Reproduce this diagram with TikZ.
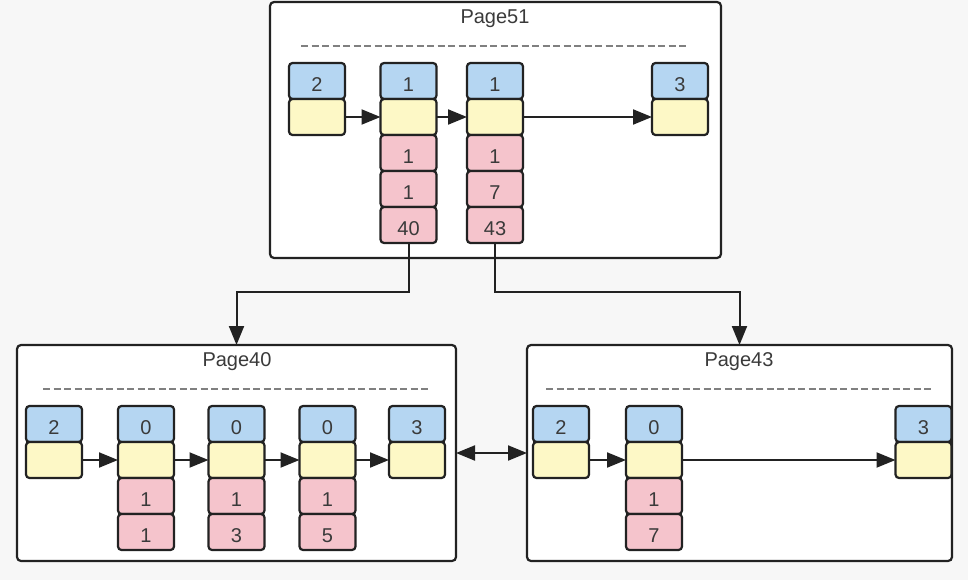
\documentclass[tikz,border=0pt]{standalone}
\usepackage{fontspec}
\setmainfont{Liberation Sans}
\usetikzlibrary{arrows.meta}
\definecolor{bgc}{HTML}{F7F7F7}
\definecolor{bluec}{HTML}{B5D6F2}
\definecolor{yelc}{HTML}{FDF8C6}
\definecolor{pinkc}{HTML}{F5C4CC}
\definecolor{edgec}{HTML}{222222}
\definecolor{txtc}{HTML}{3A3A3A}
\tikzset{
  page/.style={draw=edgec, fill=white, line width=2.2pt, rounded corners=4pt, inner sep=0pt, outer sep=0pt},
  ptitle/.style={text=txtc, font=\fontsize{20}{24}\selectfont, inner sep=0pt},
  sepline/.style={draw=gray, line width=1.8pt, dash pattern=on 7pt off 3.5pt},
  cell/.style={draw=edgec, line width=2.2pt, rounded corners=3.5pt, minimum width=56pt, minimum height=36pt, inner sep=0pt, outer sep=0pt, anchor=north, text=txtc, font=\fontsize{20}{24}\selectfont, text height=20.5pt, text depth=0pt},
  bc/.style={cell, fill=bluec},
  yc/.style={cell, fill=yelc},
  pc/.style={cell, fill=pinkc},
  arr/.style={draw=edgec, line width=2pt, -{Triangle[length=19pt,width=15pt]}},
  darr/.style={draw=edgec, line width=2pt, {Triangle[length=19pt,width=15pt]}-{Triangle[length=19pt,width=15pt]}},
}
\begin{document}
\begin{tikzpicture}[x=1pt,y=-1pt]
\fill[bgc] (0,0) rectangle (968,580);
\useasboundingbox (0,0) rectangle (968,580);

% ---------- Page51 ----------
\node[page, minimum width=451pt, minimum height=256pt] (p51) at (495.5,130) {};
\node[ptitle] (t51) at (495,19) {Page51};
\draw[sepline] (301,46) -- (689,46);
\node[bc] (a0b) at (317,63) {2};
\node[yc] (a0y) at (a0b.south) {};
\node[bc] (a1b) at (408.5,63) {1};
\node[yc] (a1y) at (a1b.south) {};
\node[pc] (a1p1) at (a1y.south) {1};
\node[pc] (a1p2) at (a1p1.south) {1};
\node[pc] (a1p3) at (a1p2.south) {40};
\node[bc] (a2b) at (495,63) {1};
\node[yc] (a2y) at (a2b.south) {};
\node[pc] (a2p1) at (a2y.south) {1};
\node[pc] (a2p2) at (a2p1.south) {7};
\node[pc] (a2p3) at (a2p2.south) {43};
\node[bc] (a3b) at (680,63) {3};
\node[yc] (a3y) at (a3b.south) {};
\draw[arr] (a0y) -- (a1y);
\draw[arr] (a1y) -- (a2y);
\draw[arr] (a2y) -- (a3y);

% ---------- Page40 ----------
\node[page, minimum width=439pt, minimum height=216pt] (p40) at (236.5,453) {};
\node[ptitle] (t40) at (237,362) {Page40};
\draw[sepline] (43,389) -- (431,389);
\node[bc] (b0b) at (54,406) {2};
\node[yc] (b0y) at (b0b.south) {};
\node[bc] (b1b) at (146,406) {0};
\node[yc] (b1y) at (b1b.south) {};
\node[pc] (b1p1) at (b1y.south) {1};
\node[pc] (b1p2) at (b1p1.south) {1};
\node[bc] (b2b) at (236.5,406) {0};
\node[yc] (b2y) at (b2b.south) {};
\node[pc] (b2p1) at (b2y.south) {1};
\node[pc] (b2p2) at (b2p1.south) {3};
\node[bc] (b3b) at (327.5,406) {0};
\node[yc] (b3y) at (b3b.south) {};
\node[pc] (b3p1) at (b3y.south) {1};
\node[pc] (b3p2) at (b3p1.south) {5};
\node[bc] (b4b) at (417,406) {3};
\node[yc] (b4y) at (b4b.south) {};
\draw[arr] (b0y) -- (b1y);
\draw[arr] (b1y) -- (b2y);
\draw[arr] (b2y) -- (b3y);
\draw[arr] (b3y) -- (b4y);

% ---------- Page43 ----------
\node[page, minimum width=425pt, minimum height=216pt] (p43) at (739.5,453) {};
\node[ptitle] (t43) at (739,362) {Page43};
\draw[sepline] (546,389) -- (933,389);
\node[bc] (c0b) at (561,406) {2};
\node[yc] (c0y) at (c0b.south) {};
\node[bc] (c1b) at (654,406) {0};
\node[yc] (c1y) at (c1b.south) {};
\node[pc] (c1p1) at (c1y.south) {1};
\node[pc] (c1p2) at (c1p1.south) {7};
\node[bc] (c2b) at (923.5,406) {3};
\node[yc] (c2y) at (c2b.south) {};
\draw[arr] (c0y) -- (c1y);
\draw[arr] (c1y) -- (c2y);

% ---------- connections ----------
\draw[arr] (a1p3.south) -- ++(0,49) -| (p40.north);
\draw[arr] (a2p3.south) -- ++(0,49) -| (p43.north);
\draw[darr] (p40.east) -- (p43.west);
\end{tikzpicture}
\end{document}
